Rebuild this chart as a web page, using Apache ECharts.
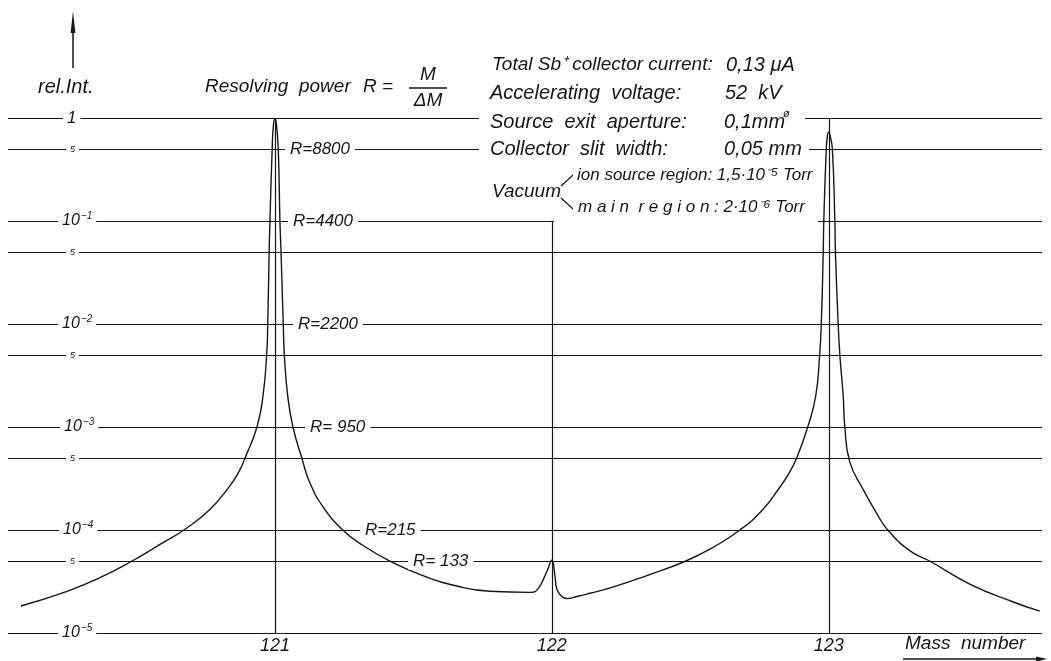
<!DOCTYPE html>
<html>
<head>
<meta charset="utf-8">
<script src="https://cdn.jsdelivr.net/npm/echarts@6/dist/echarts.min.js"></script>
<style>
html,body{margin:0;padding:0;background:#fff}
#main{width:1051px;height:661px}
</style>
</head>
<body>
<div id="main"></div>
<script>
// mass scan
var massNumber = [120.083,120.249,120.368,120.484,120.585,120.671,120.765,120.838,120.868,120.892,120.935,
  120.957,120.970,120.974,120.979,120.982,120.990,120.995,121.000,121.005,121.012,
  121.018,121.022,121.030,121.034,121.046,121.065,121.097,121.126,121.173,121.245,
  121.318,121.415,121.534,121.657,121.776,121.921,121.949,121.982,122.000,122.011,
  122.018,122.036,122.054,122.090,122.137,122.220,122.343,122.484,122.581,122.679,
  122.762,122.823,122.855,122.884,122.924,122.953,122.967,122.973,122.980,122.982,122.991,
  122.995,123.000,123.005,123.013,123.022,123.024,123.034,123.040,123.052,123.058,
  123.076,123.123,123.173,123.213,123.292,123.364,123.509,123.664,123.762];
var relInt = [1.83e-5,2.54e-5,3.44e-5,5e-5,7.24e-5,1e-4,1.58e-4,2.7e-4,3.6e-4,5e-4,1e-3,
  2.02e-3,5e-3,1e-2,5e-2,0.1,0.5,0.89,0.97,0.89,0.5,
  0.1,0.05,0.01,0.005,2.02e-3,1e-3,5e-4,2.88e-4,1.69e-4,1e-4,
  7.07e-5,5e-5,3.61e-5,2.86e-5,2.54e-5,2.48e-5,2.67e-5,3.96e-5,5.1e-5,3.61e-5,
  2.67e-5,2.26e-5,2.16e-5,2.26e-5,2.43e-5,2.79e-5,3.61e-5,5e-5,6.75e-5,1e-4,
  1.58e-4,2.6e-4,3.5e-4,5e-4,1e-3,2.02e-3,5e-3,1e-2,5e-2,0.1,0.5,
  0.67,0.73,0.67,0.5,0.1,0.05,0.01,0.005,2.02e-3,1e-3,
  4.56e-4,2.51e-4,1.45e-4,1e-4,6.3e-5,5e-5,2.99e-5,2.01e-5,1.63e-5];

// horizontal rules and their labels
var gridValues = [1, 0.5, 0.1, 0.05, 0.01, 0.005, 0.001, 0.0005, 0.0001, 0.00005, 0.00001];
var gridLabels = ['1', '5', '{n|10}{s|−1}', '5', '{n|10}{s|−2}', '5', '{n|10}{s|−3}', '5',
  '{n|10}{s|−4}', '5', '{n|10}{s|−5}'];

// resolving power marks
var resolvingAt = [0.5, 0.1, 0.01, 0.001, 0.0001, 0.00005];
var resolvingLabels = ['R=8800', 'R=4400', 'R=2200', 'R= 950', 'R=215', 'R= 133'];

var peakMass = [121, 122, 123];
var peakLineTop = [1, 0.1, 1];
var massTicks = [121, 122, 123];

// layout (pixels)
var FONT = 'Liberation Sans';
var ink = '#161616';
var gridLabelLeft = [63, 66, 58, 66, 58, 66, 60, 66, 59, 66, 58];
var resolvingLeft = [285, 288, 293, 305, 360, 408];

var chart = echarts.init(document.getElementById('main'));

var curve = massNumber.map(function (m, i) { return [m, relInt[i]]; });

function txt(x, y, s, size, extra) {
  var st = {
    text: s, font: 'italic ' + size + 'px "' + FONT + '"', fill: ink,
    align: 'left', textAlign: 'left', verticalAlign: 'middle', textVerticalAlign: 'middle'
  };
  if (extra) for (var k in extra) st[k] = extra[k];
  return { type: 'text', x: x, y: y, z: 60, style: st };
}
function whiteBox(x, y, w, h) {
  return { type: 'rect', z: 50, shape: { x: x, y: y, width: w, height: h }, style: { fill: '#fff' } };
}

var option = {
  animation: false,
  backgroundColor: '#fff',
  grid: { left: 8, right: 9, top: 118, bottom: 28 },
  xAxis: {
    type: 'value', min: 120.036, max: 123.77,
    axisLine: { show: false }, axisTick: { show: false }, splitLine: { show: false },
    axisLabel: {
      customValues: massTicks, color: ink, fontFamily: FONT, fontStyle: 'italic',
      fontSize: 18, margin: 4
    }
  },
  yAxis: { type: 'log', min: 1e-5, max: 1, show: false },
  series: [
    {
      type: 'line', data: curve, showSymbol: false, smooth: 0.5, z: 3,
      lineStyle: { color: ink, width: 1.4 },
      markLine: {
        silent: true, symbol: ['none', 'none'], precision: 12,
        lineStyle: { color: ink, width: 1.2, type: 'solid' },
        label: {
          position: 'insideStart', color: ink, fontFamily: FONT, fontStyle: 'italic',
          backgroundColor: '#fff', padding: [0, 4],
          rich: {
            n: { fontSize: 16, fontFamily: FONT, fontStyle: 'italic', color: ink },
            s: { fontSize: 10, fontFamily: FONT, fontStyle: 'italic', color: ink, padding: [0, 0, 9, 1] }
          }
        },
        data: gridValues.map(function (v, i) {
          var small = gridLabels[i] === '5';
          return {
            yAxis: v,
            label: {
              formatter: gridLabels[i], fontSize: small ? 9 : 17,
              distance: [gridLabelLeft[i] - 8, 0]
            }
          };
        })
      }
    },
    {
      type: 'line', data: [],
      markLine: {
        silent: true, symbol: ['none', 'none'], precision: 12,
        lineStyle: { color: 'rgba(255,255,255,0)', width: 1 },
        label: {
          position: 'insideStart', color: ink, fontFamily: FONT, fontStyle: 'italic',
          fontSize: 17, backgroundColor: '#fff', padding: [0, 5], opacity: 1
        },
        data: resolvingAt.map(function (v, i) {
          return { yAxis: v, label: { formatter: resolvingLabels[i], distance: [resolvingLeft[i] - 8, 0] } };
        })
      }
    },
    {
      type: 'line', data: [],
      markLine: {
        silent: true, symbol: ['none', 'none'], precision: 12,
        lineStyle: { color: ink, width: 1.2, type: 'solid' },
        label: { show: false },
        data: peakMass.map(function (m, i) {
          return [{ coord: [m, 1e-5] }, { coord: [m, peakLineTop[i]] }];
        })
      }
    }
  ],
  graphic: [
    // y axis arrow
    { type: 'line', z: 60, shape: { x1: 73, y1: 68, x2: 73, y2: 26 }, style: { stroke: ink, lineWidth: 1.5 } },
    { type: 'polygon', z: 60, shape: { points: [[73, 11], [70.6, 33], [75.4, 33]] }, style: { fill: ink } },
    txt(38, 87, 'rel.Int.', 20),
    txt(205, 87, 'Resolving  power', 19),
    txt(363, 87, 'R =', 19),
    txt(428, 75, 'M', 19, { align: 'center', textAlign: 'center' }),
    { type: 'line', z: 60, shape: { x1: 409, y1: 88, x2: 447, y2: 88 }, style: { stroke: ink, lineWidth: 1.4 } },
    txt(428, 101, 'ΔM', 19, { align: 'center', textAlign: 'center' }),

    // gaps in the rules behind the text block
    whiteBox(479, 111, 326, 15),
    whiteBox(479, 142, 330, 14),
    whiteBox(554, 216, 264, 10),

    txt(492, 65, 'Total Sb⁺ collector current:', 19),
    txt(726, 65, '0,13 μA', 20),
    txt(490, 93, 'Accelerating  voltage:', 20),
    txt(725, 93, '52  kV', 20),
    txt(490, 122, 'Source  exit  aperture:', 20),
    txt(724, 122, '0,1mm', 20),
    txt(783, 114, 'ø', 11),
    txt(490, 149, 'Collector  slit  width:', 20),
    txt(724, 149, '0,05 mm', 20),
    txt(492, 192, 'Vacuum', 19),
    { type: 'line', z: 60, shape: { x1: 561, y1: 186, x2: 573, y2: 175 }, style: { stroke: ink, lineWidth: 1.2 } },
    { type: 'line', z: 60, shape: { x1: 561, y1: 198, x2: 573, y2: 209 }, style: { stroke: ink, lineWidth: 1.2 } },
    txt(577, 175, 'ion source region: 1,5·10⁻⁵ Torr', 17),
    txt(578, 207, 'm a i n  r e g i o n : 2·10⁻⁶ Torr', 17),

    // mass number arrow
    txt(905, 644, 'Mass  number', 19),
    { type: 'line', z: 60, shape: { x1: 903, y1: 659, x2: 1040, y2: 659 }, style: { stroke: ink, lineWidth: 1.3 } },
    { type: 'polygon', z: 60, shape: { points: [[1047, 659], [1036, 656.5], [1036, 661.5]] }, style: { fill: ink } }
  ]
};

chart.setOption(option);
</script>
</body>
</html>
